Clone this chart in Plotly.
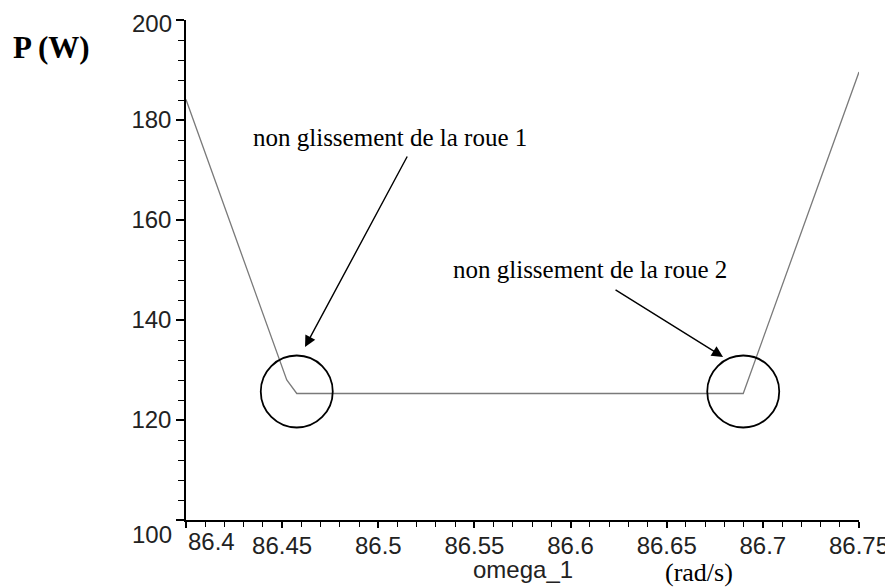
import plotly.graph_objects as go

# Data
omega = [86.40, 86.4524, 86.4576, 86.6898, 86.75]
P = [184.1, 128.0, 125.3, 125.3, 189.6]

x_ticks = [86.4, 86.45, 86.5, 86.55, 86.6, 86.65, 86.7, 86.75]
x_ticklabels = ["86.4", "86.45", "86.5", "86.55", "86.6", "86.65", "86.7", "86.75"]
y_ticks = [100, 120, 140, 160, 180, 200]
y_ticklabels = ["100", "120", "140", "160", "180", "200"]

tickfont = dict(family="Liberation Sans, Arial, sans-serif", size=24, color="#222")

fig = go.Figure()
fig.add_trace(go.Scatter(x=omega, y=P, mode="lines",
                         line=dict(color="#7a7a7a", width=1.3),
                         showlegend=False, hoverinfo="skip"))

fig.update_xaxes(range=[x_ticks[0], x_ticks[-1]], tickmode="array",
                 tickvals=x_ticks, ticktext=[""] + x_ticklabels[1:],
                 showline=True, linecolor="black", linewidth=1.5,
                 ticks="outside", ticklen=6, tickwidth=1.5, tickcolor="black",
                 minor=dict(dtick=0.01, tick0=86.4, ticks="outside", ticklen=5,
                            tickwidth=1.3, tickcolor="black"),
                 showgrid=False, zeroline=False, tickfont=tickfont,
                 ticklabelstandoff=-3, ticklabeloverflow="allow",
                 automargin=False)
fig.update_yaxes(range=[y_ticks[0], y_ticks[-1]], tickmode="array",
                 tickvals=y_ticks, ticktext=[""] + y_ticklabels[1:-1] + [""],
                 showline=True, linecolor="black", linewidth=1.5,
                 ticks="outside", ticklen=8, tickwidth=1.5, tickcolor="black",
                 minor=dict(dtick=4, tick0=100, ticks="outside", ticklen=6,
                            tickwidth=1.3, tickcolor="black"),
                 showgrid=False, zeroline=False, tickfont=tickfont,
                 ticklabeloverflow="allow", automargin=False)

# circles around the two corners
for i in (2, 3):
    fig.add_shape(type="circle", xref="x", yref="y",
                  xsizemode="pixel", ysizemode="pixel",
                  xanchor=omega[i], yanchor=P[i],
                  x0=-36, x1=36, y0=-34, y1=38,
                  line=dict(color="black", width=1.8))

ann = []
ann.append(dict(x=x_ticks[0], y=0, xref="x", yref="paper", text=x_ticklabels[0],
                showarrow=False, xanchor="left", yanchor="top", yshift=-6,
                font=tickfont))
ann.append(dict(x=0, y=y_ticks[0], xref="paper", yref="y", text=y_ticklabels[0],
                showarrow=False, xanchor="right", yanchor="top", xshift=-12, yshift=1,
                font=tickfont))
ann.append(dict(x=0, y=y_ticks[-1], xref="paper", yref="y", text=y_ticklabels[-1],
                showarrow=False, xanchor="right", yanchor="middle", xshift=-12, yshift=-3,
                font=tickfont))
serif = "Liberation Serif, Times New Roman, serif"
ann.append(dict(x=0.5, y=0, xref="paper", yref="paper", text="omega_1",
                showarrow=False, xanchor="center", yanchor="top", yshift=-34,
                font=tickfont))
ann.append(dict(x=86.7, y=0, xref="x", yref="paper", text="(rad/s)",
                showarrow=False, xanchor="center", yanchor="top", yshift=-36,
                xshift=-64,
                font=dict(family=serif, size=26, color="black")))
ann.append(dict(x=0, y=1, xref="paper", yref="paper", text="<b>P (W)</b>",
                showarrow=False, xanchor="center", yanchor="middle",
                xshift=-135, yshift=-27,
                font=dict(family=serif, size=31, color="black")))
# arrows with labels
ann.append(dict(x=86.4619, y=134.6, xref="x", yref="y", text="",
                showarrow=True, ax=103, ay=-192, arrowhead=2, arrowsize=1.6,
                arrowwidth=1.4, arrowcolor="black"))
ann.append(dict(x=86.4619, y=134.6, xref="x", yref="y",
                text="non glissement de la roue 1", showarrow=False,
                xanchor="center", yanchor="bottom", xshift=85, yshift=194,
                font=dict(family=serif, size=25, color="black")))
ann.append(dict(x=86.6793, y=132.6, xref="x", yref="y", text="",
                showarrow=True, ax=-109, ay=-68, arrowhead=2, arrowsize=1.6,
                arrowwidth=1.4, arrowcolor="black"))
ann.append(dict(x=86.6793, y=132.6, xref="x", yref="y",
                text="non glissement de la roue 2", showarrow=False,
                xanchor="center", yanchor="bottom", xshift=-133, yshift=72,
                font=dict(family=serif, size=25, color="black")))

# the page body adds an 8px offset, so the figure is 8px smaller than the window
fig.update_layout(width=885, height=580,
                  margin=dict(l=178, r=34, t=12, b=68),
                  plot_bgcolor="white", paper_bgcolor="white",
                  annotations=ann)

fig.write_html("out.html")
